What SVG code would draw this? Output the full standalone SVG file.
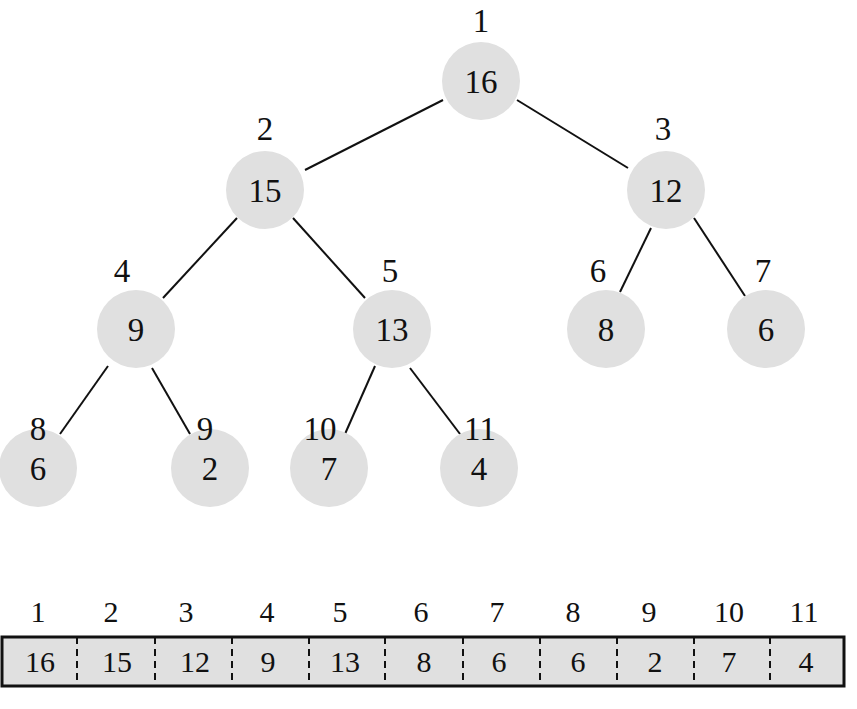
<svg xmlns="http://www.w3.org/2000/svg" width="857" height="709" viewBox="0 0 857 709">
<style>
text{font-family:"Liberation Serif",serif;font-size:33px;fill:#111;text-anchor:middle}
.n circle{fill:#e0e0e0}
.e line{stroke:#111;stroke-width:2}
.a text{font-size:30px}
</style>
<rect width="857" height="709" fill="#fff"/>
<g class="e" id="connectors">
<line x1="443" y1="100" x2="305" y2="170"/>
<line x1="517" y1="100" x2="628" y2="168"/>
<line x1="237" y1="218" x2="163" y2="298"/>
<line x1="293" y1="218" x2="365" y2="298"/>
<line x1="651" y1="228" x2="620" y2="292"/>
<line x1="694" y1="218" x2="745" y2="296"/>
<line x1="108" y1="366" x2="60" y2="434"/>
<line x1="152" y1="368" x2="190" y2="434"/>
<line x1="375" y1="366" x2="345" y2="434"/>
<line x1="410" y1="368" x2="460" y2="434"/>
</g>
<g class="n" id="n1"><circle cx="481" cy="81" r="39"/><text x="481" y="93">16</text><text x="481" y="32">1</text></g>
<g class="n" id="n2"><circle cx="265" cy="190" r="39"/><text x="265" y="202">15</text><text x="265" y="140">2</text></g>
<g class="n" id="n3"><circle cx="666" cy="190" r="39"/><text x="666" y="202">12</text><text x="663" y="140">3</text></g>
<g class="n" id="n4"><circle cx="136" cy="329" r="39"/><text x="136" y="341">9</text><text x="122" y="282">4</text></g>
<g class="n" id="n5"><circle cx="392" cy="329" r="39"/><text x="392" y="341">13</text><text x="390" y="282">5</text></g>
<g class="n" id="n6"><circle cx="606" cy="329" r="39"/><text x="606" y="341">8</text><text x="598" y="282">6</text></g>
<g class="n" id="n7"><circle cx="766" cy="329" r="39"/><text x="766" y="341">6</text><text x="763" y="282">7</text></g>
<g class="n" id="n8"><circle cx="38" cy="468" r="39"/><text x="38" y="480">6</text><text x="38" y="440">8</text></g>
<g class="n" id="n9"><circle cx="210" cy="468" r="39"/><text x="210" y="480">2</text><text x="205" y="440">9</text></g>
<g class="n" id="n10"><circle cx="329" cy="468" r="39"/><text x="329" y="480">7</text><text x="320" y="440">10</text></g>
<g class="n" id="n11"><circle cx="479" cy="468" r="39"/><text x="479" y="480">4</text><text x="480" y="440">11</text></g>
<g class="a" id="array">
<rect x="2" y="637" width="842" height="49" fill="#e0e0e0" stroke="#111" stroke-width="3"/>
<g stroke="#111" stroke-width="2" stroke-dasharray="7,5">
<line x1="77" y1="637" x2="77" y2="686"/><line x1="155" y1="637" x2="155" y2="686"/><line x1="232" y1="637" x2="232" y2="686"/><line x1="309" y1="637" x2="309" y2="686"/><line x1="385" y1="637" x2="385" y2="686"/><line x1="463" y1="637" x2="463" y2="686"/><line x1="540" y1="637" x2="540" y2="686"/><line x1="617" y1="637" x2="617" y2="686"/><line x1="694" y1="637" x2="694" y2="686"/><line x1="770" y1="637" x2="770" y2="686"/>
</g>
<text x="38" y="622">1</text><text x="111" y="622">2</text><text x="186" y="622">3</text><text x="267" y="622">4</text><text x="340" y="622">5</text><text x="421" y="622">6</text><text x="497" y="622">7</text><text x="573" y="622">8</text><text x="649" y="622">9</text><text x="729" y="622">10</text><text x="804" y="622">11</text>
<text x="40" y="672">16</text><text x="117" y="672">15</text><text x="195" y="672">12</text><text x="268" y="672">9</text><text x="345" y="672">13</text><text x="424" y="672">8</text><text x="499" y="672">6</text><text x="578" y="672">6</text><text x="655" y="672">2</text><text x="729" y="672">7</text><text x="806" y="672">4</text>
</g>
</svg>
